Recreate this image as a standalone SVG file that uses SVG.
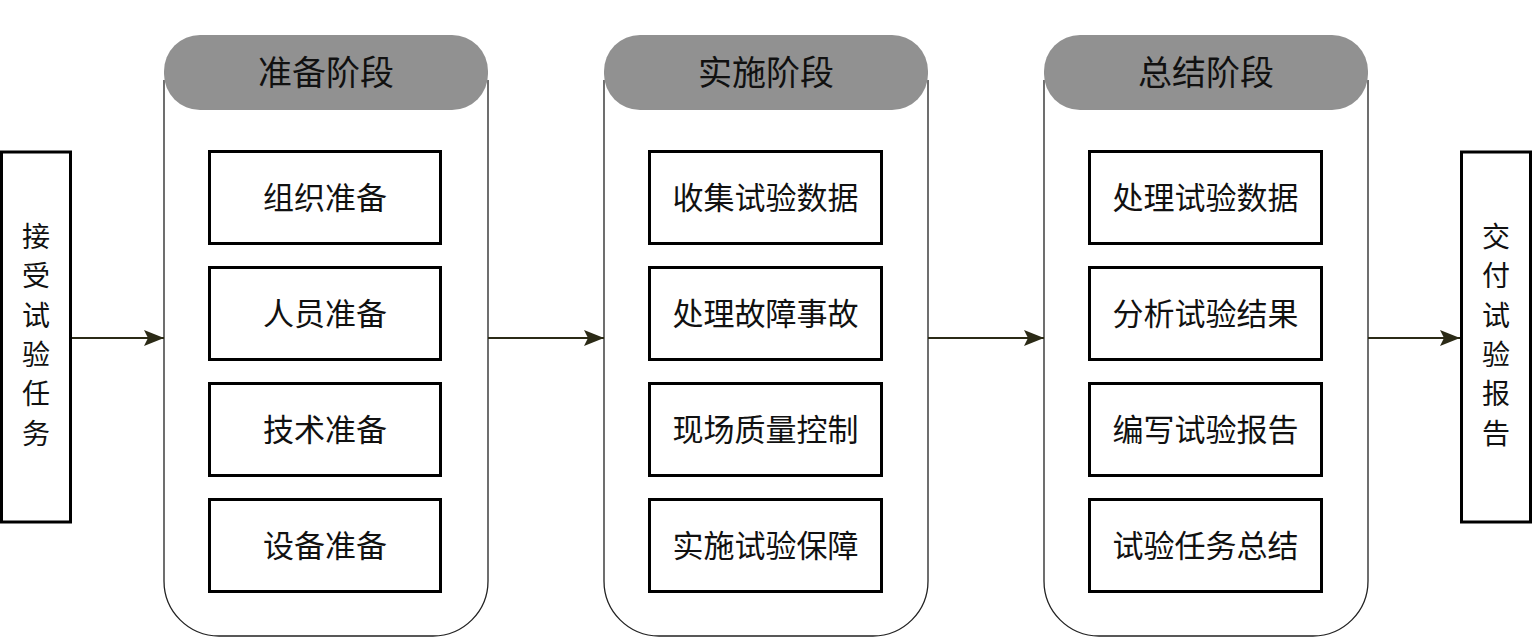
<svg xmlns="http://www.w3.org/2000/svg" width="1534" height="637" viewBox="0 0 1534 637">
<style>
.cont{fill:#fff;stroke:#222;stroke-width:1.3}
.pill{fill:#919191;stroke:none}
.box{fill:#fff;stroke:#000;stroke-width:3}
.hd{font-family:"Noto Sans CJK SC","Noto Sans CJK JP",sans-serif;font-size:34px;fill:#111;text-anchor:middle;dominant-baseline:central}
.tx{font-family:"Noto Sans CJK SC","Noto Sans CJK JP",sans-serif;font-size:31px;fill:#111;text-anchor:middle;dominant-baseline:central}
.vt{font-family:"Noto Sans CJK SC","Noto Sans CJK JP",sans-serif;font-size:28px;fill:#111;text-anchor:middle;dominant-baseline:central}
.ln{stroke:#2b2a16;stroke-width:2;fill:none;marker-end:url(#ah)}
</style>
<defs>
<marker id="ah" markerWidth="22" markerHeight="16" refX="20" refY="8" orient="auto" markerUnits="userSpaceOnUse">
<path d="M0,0 L20,8 L0,16 L4,8 Z" fill="#2b2a16"/>
</marker>
</defs>
<rect width="1534" height="637" fill="#fff"/>

<g id="start">
<rect class="box" x="1.5" y="152" width="69" height="370"/>
<text class="vt" x="36" y="235">接</text>
<text class="vt" x="36" y="274">受</text>
<text class="vt" x="36" y="314">试</text>
<text class="vt" x="36" y="353">验</text>
<text class="vt" x="36" y="392">任</text>
<text class="vt" x="36" y="432">务</text>
</g>

<g id="phase1">
<path class="cont" d="M164,80 V581 A55,55 0 0 0 219,636 H433 A55,55 0 0 0 488,581 V80"/>
<rect class="pill" x="164" y="35" width="324" height="75" rx="36" ry="36"/>
<text class="hd" x="326" y="70">准备阶段</text>
<g id="p1a"><rect class="box" x="209.5" y="151.5" width="231" height="92"/><text class="tx" x="325" y="195">组织准备</text></g>
<g id="p1b"><rect class="box" x="209.5" y="267.5" width="231" height="92"/><text class="tx" x="325" y="311">人员准备</text></g>
<g id="p1c"><rect class="box" x="209.5" y="383.5" width="231" height="92"/><text class="tx" x="325" y="427">技术准备</text></g>
<g id="p1d"><rect class="box" x="209.5" y="499.5" width="231" height="92"/><text class="tx" x="325" y="543">设备准备</text></g>
</g>

<g id="phase2">
<path class="cont" d="M604,80 V581 A55,55 0 0 0 659,636 H873 A55,55 0 0 0 928,581 V80"/>
<rect class="pill" x="604" y="35" width="324" height="75" rx="36" ry="36"/>
<text class="hd" x="766" y="70">实施阶段</text>
<g id="p2a"><rect class="box" x="649.5" y="151.5" width="232" height="92"/><text class="tx" x="765.5" y="195">收集试验数据</text></g>
<g id="p2b"><rect class="box" x="649.5" y="267.5" width="232" height="92"/><text class="tx" x="765.5" y="311">处理故障事故</text></g>
<g id="p2c"><rect class="box" x="649.5" y="383.5" width="232" height="92"/><text class="tx" x="765.5" y="427">现场质量控制</text></g>
<g id="p2d"><rect class="box" x="649.5" y="499.5" width="232" height="92"/><text class="tx" x="765.5" y="543">实施试验保障</text></g>
</g>

<g id="phase3">
<path class="cont" d="M1044,80 V581 A55,55 0 0 0 1099,636 H1313 A55,55 0 0 0 1368,581 V80"/>
<rect class="pill" x="1044" y="35" width="324" height="75" rx="36" ry="36"/>
<text class="hd" x="1206" y="70">总结阶段</text>
<g id="p3a"><rect class="box" x="1089.5" y="151.5" width="232" height="92"/><text class="tx" x="1205.5" y="195">处理试验数据</text></g>
<g id="p3b"><rect class="box" x="1089.5" y="267.5" width="232" height="92"/><text class="tx" x="1205.5" y="311">分析试验结果</text></g>
<g id="p3c"><rect class="box" x="1089.5" y="383.5" width="232" height="92"/><text class="tx" x="1205.5" y="427">编写试验报告</text></g>
<g id="p3d"><rect class="box" x="1089.5" y="499.5" width="232" height="92"/><text class="tx" x="1205.5" y="543">试验任务总结</text></g>
</g>

<g id="end">
<rect class="box" x="1461.5" y="152" width="69" height="370"/>
<text class="vt" x="1496" y="235">交</text>
<text class="vt" x="1496" y="274">付</text>
<text class="vt" x="1496" y="314">试</text>
<text class="vt" x="1496" y="353">验</text>
<text class="vt" x="1496" y="392">报</text>
<text class="vt" x="1496" y="432">告</text>
</g>

<g id="connectors">
<line class="ln" x1="72" y1="338" x2="164" y2="338"/>
<line class="ln" x1="488" y1="338" x2="604" y2="338"/>
<line class="ln" x1="928" y1="338" x2="1044" y2="338"/>
<line class="ln" x1="1368" y1="338" x2="1460" y2="338"/>
</g>
</svg>
